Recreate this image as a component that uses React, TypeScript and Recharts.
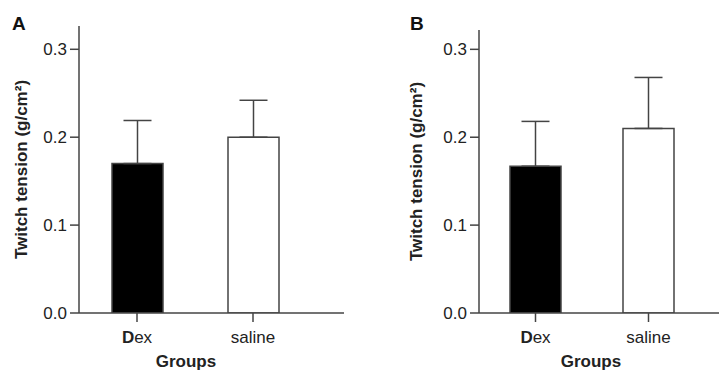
import React from 'react';
import { BarChart, Bar, XAxis, YAxis, ErrorBar, Cell } from 'recharts';

const groups = ['Dex', 'saline'];
const yTicks = [0, 0.1, 0.2, 0.3];

// panel A
const meanA = [0.17, 0.2];
const semA = [0.049, 0.042];

// panel B
const meanB = [0.167, 0.21];
const semB = [0.051, 0.058];

const FILLS = ['#000000', '#ffffff'];
const AXIS = '#444444';
const FONT = '"Liberation Sans", Arial, sans-serif';

const XTick = ({ x, y, payload }: any) => {
  const v = payload.value;
  return (
    <text x={x} y={y + 19} textAnchor="middle" fontSize={17} fill="#222" fontFamily={FONT}>
      {v === 'Dex' ? (
        <>
          <tspan fontWeight="bold">D</tspan>
          <tspan>ex</tspan>
        </>
      ) : (
        v
      )}
    </text>
  );
};

interface PanelProps {
  letter: string;
  means: number[];
  sems: number[];
  width: number;
  left: number;
  top: number;
  right: number;
  padRight: number;
  yMax: number;
  groupsX: number;
  letterX: number;
  yLabelX: number;
}

function Panel({ letter, means, sems, width, left, top, right, padRight, yMax, groupsX, letterX, yLabelX }: PanelProps) {
  const data = groups.map((g, i) => ({ group: g, value: means[i], err: [0, sems[i]] }));
  const yAxisW = 60;
  return (
    <div style={{ position: 'relative', width, height: 372 }}>
      <BarChart
        width={width}
        height={372}
        data={data}
        margin={{ top, right, bottom: 9, left: left - yAxisW }}
        barCategoryGap={0}
      >
        <XAxis
          dataKey="group"
          height={50}
          padding={{ left: 0, right: padRight }}
          stroke={AXIS}
          strokeWidth={1.5}
          tickSize={9}
          tick={<XTick />}
          interval={0}
          label={{
            content: () => (
              <text x={groupsX} y={367} textAnchor="middle" fontSize={17} fontWeight="bold" fill="#222" fontFamily={FONT}>
                Groups
              </text>
            ),
          }}
        />
        <YAxis
          width={yAxisW}
          domain={[0, yMax]}
          ticks={yTicks}
          allowDataOverflow
          tickFormatter={(v: number) => v.toFixed(1)}
          stroke={AXIS}
          strokeWidth={1.5}
          tickSize={9}
          tickMargin={3}
          tick={{ fontSize: 17, fill: '#222', fontFamily: FONT }}
          label={{
            content: (p: any) => {
              const vb = p.viewBox || {};
              const cx = yLabelX;
              const cy = vb.y + vb.height / 2;
              return (
                <text
                  x={cx}
                  y={cy}
                  transform={`rotate(-90, ${cx}, ${cy})`}
                  textAnchor="middle"
                  dominantBaseline="central"
                  fontSize={17}
                  fontWeight="bold"
                  fill="#222"
                  fontFamily={FONT}
                >
                  Twitch tension (g/cm²)
                </text>
              );
            },
          }}
        />
        <Bar dataKey="value" barSize={51} stroke={AXIS} strokeWidth={1.5} isAnimationActive={false}>
          {data.map((d, i) => (
            <Cell key={d.group} fill={FILLS[i]} />
          ))}
          <ErrorBar dataKey="err" width={14} stroke={AXIS} strokeWidth={1.5} direction="y" />
        </Bar>
      </BarChart>
      <div
        style={{
          position: 'absolute',
          left: letterX,
          top: 14,
          fontFamily: FONT,
          fontWeight: 'bold',
          fontSize: 19,
          lineHeight: 1,
          color: '#111',
        }}
      >
        {letter}
      </div>
    </div>
  );
}

export default function App() {
  return (
    <div
      style={{
        position: 'fixed',
        left: 0,
        top: 0,
        width: 719,
        height: 372,
        background: '#fff',
        display: 'flex',
        overflow: 'hidden',
      }}
    >
      <Panel
        letter="A"
        means={meanA}
        sems={semA}
        width={360}
        left={79}
        top={26}
        right={16}
        padRight={33}
        yMax={0.3265}
        groupsX={186}
        letterX={12}
        yLabelX={21}
      />
      <Panel
        letter="B"
        means={meanB}
        sems={semB}
        width={359}
        left={119}
        top={30}
        right={0}
        padRight={14}
        yMax={0.322}
        groupsX={231}
        letterX={50}
        yLabelX={56}
      />
    </div>
  );
}
